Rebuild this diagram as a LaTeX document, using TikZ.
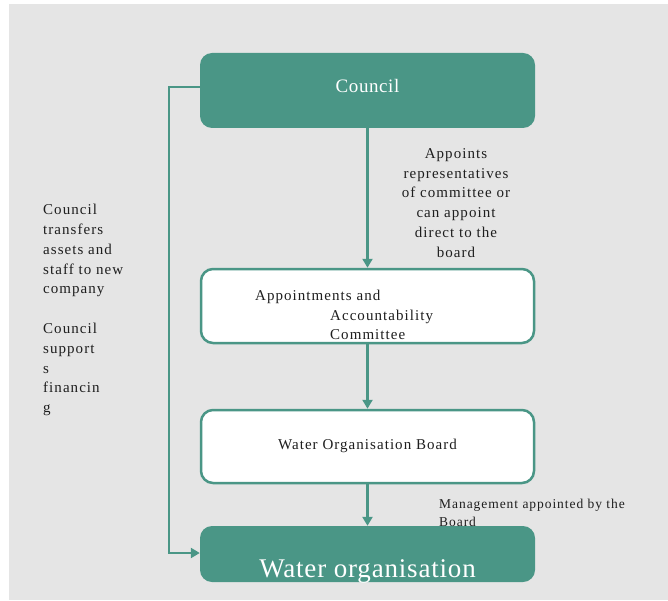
\documentclass[tikz,border=0pt]{standalone}
\usepackage{fontspec}
\setmainfont[LetterSpace=7]{Liberation Serif}
\newfontfamily\titlefont[LetterSpace=3]{Liberation Serif}
\usetikzlibrary{arrows.meta}
\definecolor{teal}{HTML}{4A9686}
\definecolor{canvas}{HTML}{E5E5E5}
\definecolor{ink}{HTML}{1E1E1E}
\tikzset{
  x=1pt, y=-1pt,
  filledbox/.style={draw=none, fill=teal, rounded corners=12pt, inner sep=0pt},
  openbox/.style={draw=teal, line width=2.5pt, fill=white, rounded corners=12pt, inner sep=0pt},
  link/.style={draw=teal, line width=2.5pt, -{Triangle[width=10pt,length=9pt]}},
  note/.style={text=ink, inner sep=0pt, font=\fontsize{15}{19.8}\selectfont},
}
\begin{document}
\begin{tikzpicture}
  \useasboundingbox (0,0) rectangle (668,601);
  \fill[canvas] (9,4) rectangle (668,600);

  % boxes
  \node[filledbox, minimum width=335pt, minimum height=75pt] (council) at (367.5,90.5) {};
  \node[openbox, minimum width=333pt, minimum height=74pt] (committee) at (367.5,306) {};
  \node[openbox, minimum width=333pt, minimum height=73pt] (board) at (367.5,446.5) {};
  \node[filledbox, minimum width=335pt, minimum height=56pt] (water) at (367.5,554) {};

  % box texts
  \node[text=white, font=\titlefont\fontsize{19}{22}\selectfont] (councilText) at (367.5,86) {Council};
  \node[note, anchor=west, align=left] (committeeText) at (255,315)
    {Appointments and\\\hspace*{75pt}Accountability\\\hspace*{75pt}Committee};
  \node[note] (boardText) at (367.5,446) {Water Organisation Board};
  \node[text=white, inner sep=0pt, font=\titlefont\fontsize{27}{30}\selectfont] (waterText) at (367.5,571) {Water organisation};

  % connectors
  \draw[link] (council.south) -- (committee.north);
  \draw[link] (committee.south) -- (board.north);
  \draw[link] (board.south) -- (water.north);
  \coordinate (bendTop) at (169,87);
  \coordinate (bendBottom) at (169,553);
  \draw[link] (council.west |- bendTop) -- (bendTop) -- (bendBottom) -- (water.west |- bendBottom);

  % annotations
  \node[note, align=center] (appointLabel) at (456,203)
    {Appoints\\representatives\\of committee or\\can appoint\\direct to the\\board};
  \node[note, anchor=north west, align=left] (transferLabel) at (43,204)
    {Council\\transfers\\assets and\\staff to new\\company\\[19.8pt]Council\\support\\s\\financin\\g};
  \node[note, anchor=north west, align=left, font=\fontsize{13.5}{18}\selectfont] (managementLabel) at (439,499)
    {Management appointed by the\\Board};
\end{tikzpicture}
\end{document}
